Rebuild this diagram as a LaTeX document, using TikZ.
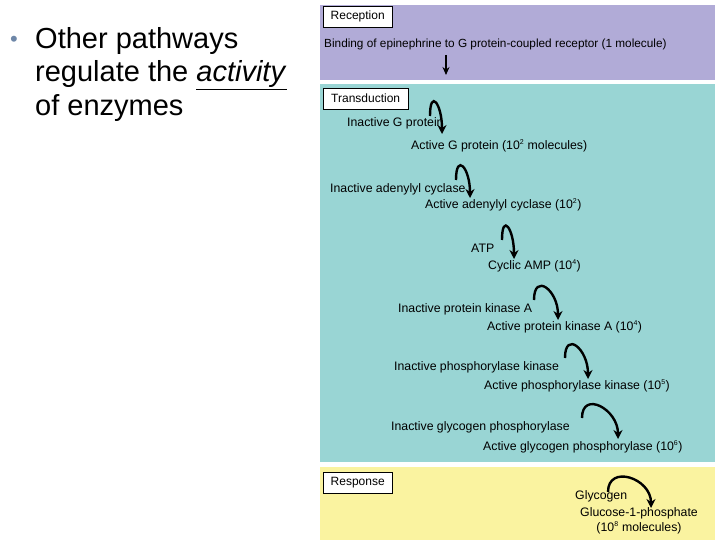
\documentclass[tikz,border=0pt]{standalone}
\usepackage{fontspec}
\setmainfont{Liberation Sans}
\usetikzlibrary{arrows.meta}
\definecolor{rec}{HTML}{B1ABD7}
\definecolor{tra}{HTML}{99D5D4}
\definecolor{res}{HTML}{FAF3A0}
\definecolor{bul}{HTML}{6E87A8}
\tikzset{
 lab/.style={font=\fontsize{12.3}{14}\selectfont, inner sep=0pt, anchor=west},
 hdr/.style={draw=black, fill=white, font=\fontsize{12}{14}\selectfont, inner sep=0pt, anchor=north west, minimum height=21pt},
 curv/.style={line width=2.4pt, -{Stealth[length=9pt,width=9pt]}},
 big/.style={font=\fontsize{29}{32}\selectfont, inner sep=0pt, anchor=west}
}
\newcommand{\sps}[1]{\textsuperscript{\fontsize{7}{7}\selectfont #1}}
\begin{document}
\begin{tikzpicture}[x=1pt,y=-1pt]
\useasboundingbox (0,0) rectangle (720,540);
\fill[rec] (320,5) rectangle (715,80);
\fill[tra] (320,84) rectangle (715,462);
\fill[res] (320,467) rectangle (715,540);
\node[hdr, minimum width=69pt] (hrec) at (323,6) {Reception};
\node[hdr, minimum width=85pt] (htra) at (323,88) {Transduction};
\node[hdr, minimum width=69pt] (hres) at (323,472) {Response};
\node[lab, font=\fontsize{11.8}{14}\selectfont] (bind) at (324,44) {Binding of epinephrine to G protein-coupled receptor (1 molecule)};
\coordinate (b1) at (446,55); \coordinate (b2) at (446,75);
\draw[line width=1.2pt, -{Stealth[length=8pt,width=7pt]}] (b1) -- (b2);
% labels
\node[lab] (g0) at (347,123) {Inactive G protein};
\node[lab] (g1) at (411,146) {Active G protein (10\sps{2} molecules)};
\node[lab] (a0) at (330,189) {Inactive adenylyl cyclase};
\node[lab] (a1) at (425,205) {Active adenylyl cyclase (10\sps{2})};
\node[lab] (c0) at (471,248) {ATP};
\node[lab] (c1) at (488,266) {Cyclic AMP (10\sps{4})};
\node[lab] (k0) at (398,309) {Inactive protein kinase A};
\node[lab] (k1) at (487,327) {Active protein kinase A (10\sps{4})};
\node[lab] (p0) at (394,367) {Inactive phosphorylase kinase};
\node[lab] (p1) at (484,386) {Active phosphorylase kinase (10\sps{5})};
\node[lab] (y0) at (391,427) {Inactive glycogen phosphorylase};
\node[lab] (y1) at (483,447) {Active glycogen phosphorylase (10\sps{6})};
\node[lab] (l0) at (575,496) {Glycogen};
\node[font=\fontsize{12.3}{14}\selectfont, inner sep=0pt] (l1) at (639,513) {Glucose-1-phosphate};
\node[font=\fontsize{12.3}{14}\selectfont, inner sep=0pt] (l2) at (639,528) {(10\sps{8} molecules)};
% curved arrows
\coordinate (s1) at (430,116); \coordinate (e1) at (442,134);
\coordinate (s2) at (456,180); \coordinate (e2) at (470,198);
\coordinate (s3) at (502,240); \coordinate (e3) at (514,259);
\coordinate (s4) at (534,300); \coordinate (e4) at (558,320);
\coordinate (s5) at (565,358); \coordinate (e5) at (588,379);
\coordinate (s6) at (582,418); \coordinate (e6) at (618,439);
\coordinate (s7) at (608,492); \coordinate (e7) at (651,508);
\foreach \i in {1,...,7}{
 \draw[curv] (s\i) .. controls +(0,-28) and +(0,-30) .. (e\i);
}
% bullet text
\node[font=\fontsize{22}{22}\selectfont, text=bul, inner sep=0pt] (bu) at (14,41) {•};
\node[big] (t1) at (35,41) {Other pathways};
\node[big] (t2) at (35,75) {regulate the \underline{\textit{activity}}};
\node[big] (t3) at (35,108) {of enzymes};
\end{tikzpicture}
\end{document}
